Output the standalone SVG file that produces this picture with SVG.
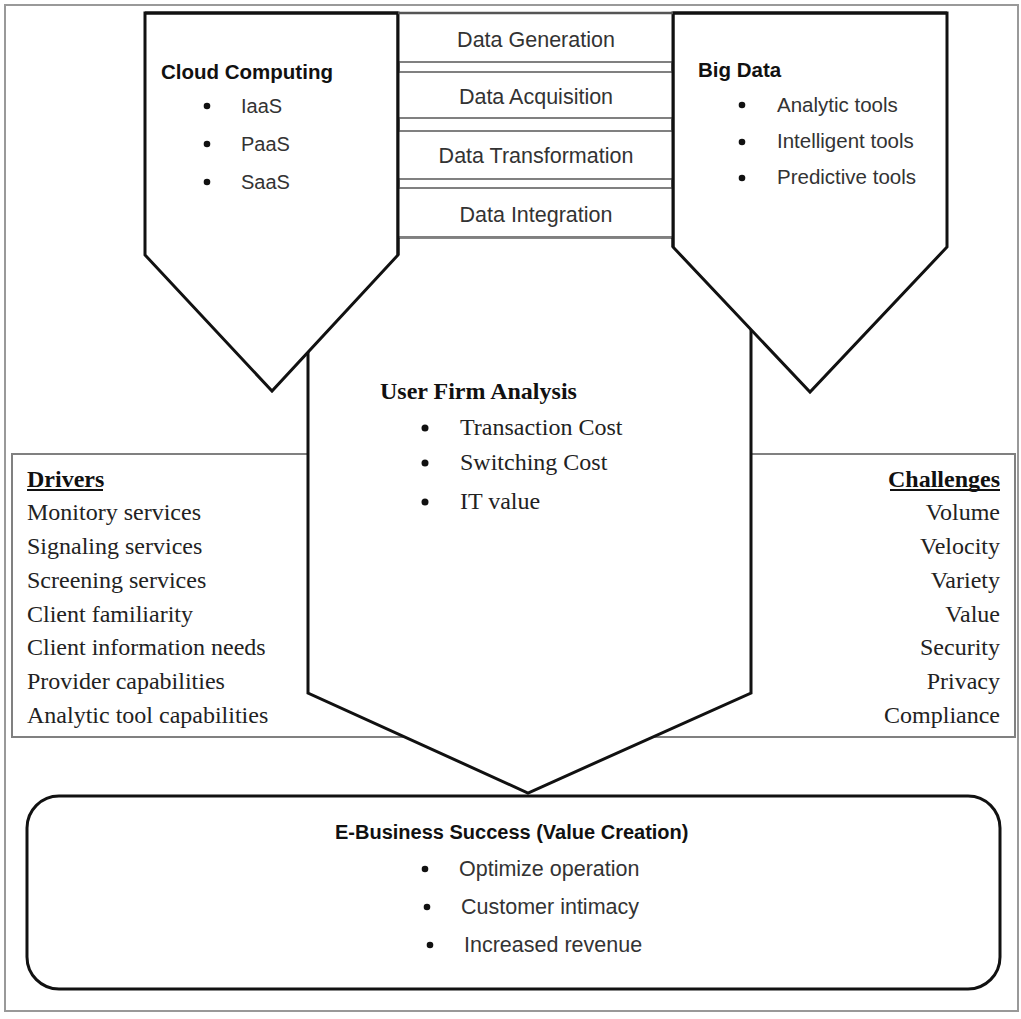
<svg xmlns="http://www.w3.org/2000/svg" width="1021" height="1019" viewBox="0 0 1021 1019">
<style>
.frame{fill:none;stroke:#999;stroke-width:2}
.gbox{fill:#fff;stroke:#808080;stroke-width:2}
.shape{fill:#fff;stroke:#111;stroke-width:3;stroke-linejoin:miter}
.sans{font-family:"Liberation Sans",Arial,sans-serif;fill:#333}
.sansb{font-family:"Liberation Sans",Arial,sans-serif;font-weight:bold;fill:#111}
.serif{font-family:"Liberation Serif","Times New Roman",serif;fill:#222;font-size:24px}
.serifb{font-family:"Liberation Serif","Times New Roman",serif;font-weight:bold;fill:#111;font-size:24px}
.dot{fill:#111}
.ul{stroke:#111;stroke-width:2}
</style>
<rect x="0" y="0" width="1021" height="1019" fill="#fff"/>
<rect class="frame" x="5" y="5" width="1013" height="1006"/>

<g id="drivers">
<path class="gbox" d="M530 454H12V737H530"/>
</g>
<g id="challenges">
<path class="gbox" d="M520 454H1015V737H520"/>
</g>

<g id="user-firm-analysis">
<polygon class="shape" points="308,237 751,237 751,693 528,793 308,693"/>
</g>

<g id="e-business">
<rect class="shape" x="27" y="796" width="973" height="193" rx="32" ry="32" stroke-width="3.5"/>
</g>

<g id="cloud-computing">
<polygon class="shape" points="145,13 398,13 398,255 272,391 145,255"/>
</g>

<g id="big-data">
<polygon class="shape" points="673,13 947,13 947,247 810,392 673,247"/>
</g>

<g id="data-steps">
<g id="data-generation"><rect class="gbox" x="398" y="13" width="275" height="49"/></g>
<g id="data-acquisition"><rect class="gbox" x="398" y="72" width="275" height="46"/></g>
<g id="data-transformation"><rect class="gbox" x="398" y="131" width="275" height="48"/></g>
<g id="data-integration"><rect class="gbox" x="398" y="188" width="275" height="49"/></g>
<line x1="398" y1="13" x2="398" y2="255" stroke="#111" stroke-width="3"/>
<line x1="673" y1="13" x2="673" y2="247" stroke="#111" stroke-width="3"/>
<line x1="145" y1="13" x2="398" y2="13" stroke="#111" stroke-width="3"/>
<line x1="673" y1="13" x2="947" y2="13" stroke="#111" stroke-width="3"/>
<line x1="398" y1="13" x2="673" y2="13" stroke="#555" stroke-width="2.5"/>
</g>

<g id="connectors"></g>

<g id="texts">
<text class="sansb" x="161" y="79" font-size="20.5">Cloud Computing</text>
<circle class="dot" cx="207" cy="106" r="3.3"/>
<circle class="dot" cx="207" cy="144" r="3.3"/>
<circle class="dot" cx="207" cy="182" r="3.3"/>
<text class="sans" x="241" y="113" font-size="20">IaaS</text>
<text class="sans" x="241" y="151" font-size="20">PaaS</text>
<text class="sans" x="241" y="189" font-size="20">SaaS</text>

<text class="sans" x="536" y="47" font-size="21.5" text-anchor="middle">Data Generation</text>
<text class="sans" x="536" y="104" font-size="21.5" text-anchor="middle">Data Acquisition</text>
<text class="sans" x="536" y="163" font-size="21.5" text-anchor="middle">Data Transformation</text>
<text class="sans" x="536" y="222" font-size="21.5" text-anchor="middle">Data Integration</text>

<text class="sansb" x="698" y="77" font-size="20.5">Big Data</text>
<circle class="dot" cx="742" cy="105" r="3.3"/>
<circle class="dot" cx="742" cy="142" r="3.3"/>
<circle class="dot" cx="742" cy="178" r="3.3"/>
<text class="sans" x="777" y="112" font-size="20.5">Analytic tools</text>
<text class="sans" x="777" y="148" font-size="20.5">Intelligent tools</text>
<text class="sans" x="777" y="184" font-size="20.5">Predictive tools</text>

<text class="serifb" x="380" y="399">User Firm Analysis</text>
<circle class="dot" cx="425" cy="428" r="3.5"/>
<circle class="dot" cx="425" cy="463" r="3.5"/>
<circle class="dot" cx="425" cy="502" r="3.5"/>
<text class="serif" x="460" y="435">Transaction Cost</text>
<text class="serif" x="460" y="470">Switching Cost</text>
<text class="serif" x="460" y="509">IT value</text>

<text class="serifb" x="27" y="487">Drivers</text>
<line class="ul" x1="27" y1="490" x2="103" y2="490"/>
<text class="serif" x="27" y="520">Monitory services</text>
<text class="serif" x="27" y="554">Signaling services</text>
<text class="serif" x="27" y="588">Screening services</text>
<text class="serif" x="27" y="622">Client familiarity</text>
<text class="serif" x="27" y="655">Client information needs</text>
<text class="serif" x="27" y="689">Provider capabilities</text>
<text class="serif" x="27" y="723">Analytic tool capabilities</text>

<text class="serifb" x="1000" y="487" text-anchor="end">Challenges</text>
<line class="ul" x1="890" y1="490" x2="1000" y2="490"/>
<text class="serif" x="1000" y="520" text-anchor="end">Volume</text>
<text class="serif" x="1000" y="554" text-anchor="end">Velocity</text>
<text class="serif" x="1000" y="588" text-anchor="end">Variety</text>
<text class="serif" x="1000" y="622" text-anchor="end">Value</text>
<text class="serif" x="1000" y="655" text-anchor="end">Security</text>
<text class="serif" x="1000" y="689" text-anchor="end">Privacy</text>
<text class="serif" x="1000" y="723" text-anchor="end">Compliance</text>

<text class="sansb" x="335" y="839" font-size="20">E-Business Success (Value Creation)</text>
<circle class="dot" cx="425" cy="869" r="3.3"/>
<circle class="dot" cx="427" cy="907" r="3.3"/>
<circle class="dot" cx="430" cy="945" r="3.3"/>
<text class="sans" x="459" y="876" font-size="21.5">Optimize operation</text>
<text class="sans" x="461" y="914" font-size="21.5">Customer intimacy</text>
<text class="sans" x="464" y="952" font-size="21.5">Increased revenue</text>
</g>
</svg>
